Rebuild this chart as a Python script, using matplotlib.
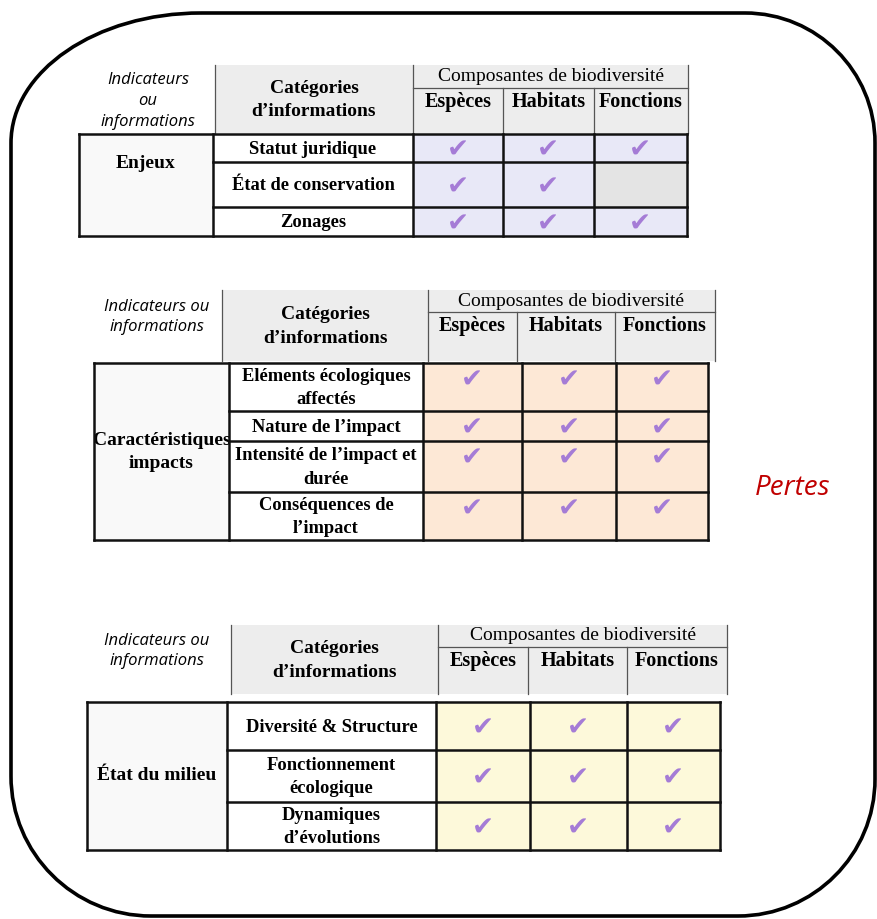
"""
Tableaux des indicateurs de biodiversité (pertes) - recréation matplotlib.
"""
import matplotlib
matplotlib.use('Agg')
from matplotlib import pyplot as plt
from matplotlib.patches import Rectangle, PathPatch
from matplotlib.path import Path

# Données
composantes = ["Espèces", "Habitats", "Fonctions"]
titre_composantes = "Composantes de biodiversité"
titre_categories = "Catégories\nd’informations"

enjeux_label = "Enjeux"
enjeux_categories = ["Statut juridique", "État de conservation", "Zonages"]
enjeux_checks = [[1, 1, 1], [1, 1, 0], [1, 1, 1]]

impacts_label = "Caractéristiques\nimpacts"
impacts_categories = ["Eléments écologiques\naffectés", "Nature de l’impact",
                      "Intensité de l’impact et\ndurée", "Conséquences de\nl’impact"]
impacts_checks = [[1, 1, 1], [1, 1, 1], [1, 1, 1], [1, 1, 1]]

milieu_label = "État du milieu"
milieu_categories = ["Diversité & Structure", "Fonctionnement\nécologique",
                     "Dynamiques\nd’évolutions"]
milieu_checks = [[1, 1, 1], [1, 1, 1], [1, 1, 1]]

SERIF = "Liberation Serif"
SANS = "Open Sans"
CHECK_COLOR = "#a57cd6"
HEADER_GREY = "#ededed"


def draw_table(ax, t):
    # en-tête gris
    hx = t['hdr_x']
    ht, hs, hb = t['hdr_y']
    ax.add_patch(Rectangle((hx[0], ht), hx[-1] - hx[0], hb - ht,
                           facecolor=HEADER_GREY, edgecolor='none', zorder=1))
    for x in hx:
        ax.plot([x, x], [ht if x in (hx[0], hx[1], hx[-1]) else hs, hb],
                color='#555555', lw=0.9, zorder=2)
    ax.plot([hx[1], hx[-1]], [hs, hs], color='#555555', lw=0.9, zorder=2)

    # textes de l'en-tête
    ax.text(t['ind_x'], t['ind_y'], t['ind_text'], ha='center', va='center',
            fontsize=12, style='italic', family=SANS, color='black',
            linespacing=1.4)
    ax.text((hx[0] + hx[1]) / 2, (ht + hb) / 2 + 1, titre_categories,
            ha='center', va='center', fontsize=14, fontweight='bold',
            family=SERIF, linespacing=1.5)
    ax.text((hx[1] + hx[-1]) / 2, (ht + hs) / 2, titre_composantes, ha='center',
            va='center', fontsize=14, family=SERIF)
    for i, nom in enumerate(composantes):
        ax.text((hx[i + 1] + hx[i + 2]) / 2, hs + 14, nom, ha='center',
                va='center', fontsize=14.5, fontweight='bold', family=SERIF)

    # corps du tableau
    bx = t['body_x']
    by = t['body_y']
    top, bot = by[0], by[-1]
    ax.add_patch(Rectangle((bx[0], top), bx[1] - bx[0], bot - top,
                           facecolor='#f9f9f9', edgecolor='none', zorder=1))
    for r in range(len(by) - 1):
        for c in range(3):
            fc = t['fill'] if t['checks'][r][c] else '#e4e4e4'
            ax.add_patch(Rectangle((bx[c + 2], by[r]), bx[c + 3] - bx[c + 2],
                                   by[r + 1] - by[r], facecolor=fc,
                                   edgecolor='none', zorder=1))
            if t['checks'][r][c]:
                if t['check_top']:
                    cy = by[r] + 18
                else:
                    cy = (by[r] + by[r + 1]) / 2 + 3
                ax.text((bx[c + 2] + bx[c + 3]) / 2, cy, '✔', ha='center',
                        va='center', fontsize=19, color=CHECK_COLOR,
                        family='DejaVu Sans', zorder=3)
        ax.text((bx[1] + bx[2]) / 2, (by[r] + by[r + 1]) / 2 + 1,
                t['categories'][r], ha='center', va='center', fontsize=13.3,
                fontweight='bold', family=SERIF, linespacing=1.5, zorder=3)

    # lignes du corps
    for x in bx:
        ax.plot([x, x], [top, bot], color='#111111', lw=1.8, zorder=4)
    for y in by:
        x0 = bx[0] if y in (top, bot) else bx[1]
        ax.plot([x0, bx[-1]], [y, y], color='#111111', lw=1.8, zorder=4)

    ax.text((bx[0] + bx[1]) / 2, t['label_y'], t['label'], ha='center',
            va='center', fontsize=14, fontweight='bold', family=SERIF,
            linespacing=1.5, zorder=3)


fig = plt.figure(figsize=(8.77, 9.19), dpi=100)
ax = fig.add_axes([0, 0, 1, 1])
ax.set_xlim(0, 877)
ax.set_ylim(919, 0)
ax.axis('off')

# cadre arrondi
L, R, T, B = 11, 875, 13, 916
k = 0.5523
verts = [
    (L + 190, T), (R - 130, T),
    (R - 130 + 130 * k, T), (R, T + 130 - 130 * k), (R, T + 130),
    (R, B - 137),
    (R, B - 137 + 137 * k), (R - 137 + 137 * k, B), (R - 137, B),
    (L + 140, B),
    (L + 140 - 140 * k, B), (L, B - 140 + 140 * k), (L, B - 140),
    (L, T + 130),
    (L, T + 130 - 130 * k), (L + 190 - 190 * k, T), (L + 190, T),
]
codes = [Path.MOVETO, Path.LINETO,
         Path.CURVE4, Path.CURVE4, Path.CURVE4,
         Path.LINETO,
         Path.CURVE4, Path.CURVE4, Path.CURVE4,
         Path.LINETO,
         Path.CURVE4, Path.CURVE4, Path.CURVE4,
         Path.LINETO,
         Path.CURVE4, Path.CURVE4, Path.CURVE4]
ax.add_patch(PathPatch(Path(verts, codes), facecolor='none',
                       edgecolor='black', lw=2.6, zorder=0))

tables = [
    dict(hdr_x=[215, 413, 503, 594, 688], hdr_y=(65, 88, 133),
         body_x=[79, 213, 413, 503, 594, 687], body_y=[134, 162, 207, 236],
         ind_text="Indicateurs\nou\ninformations", ind_x=148, ind_y=101,
         label=enjeux_label, label_y=163, categories=enjeux_categories,
         checks=enjeux_checks, fill='#e8e8f7', check_top=False),
    dict(hdr_x=[222, 428, 517, 615, 715], hdr_y=(290, 312, 361),
         body_x=[94, 229, 423, 522, 616, 708], body_y=[363, 411, 441, 492, 540],
         ind_text="Indicateurs ou\ninformations", ind_x=157, ind_y=317,
         label=impacts_label, label_y=452, categories=impacts_categories,
         checks=impacts_checks, fill='#fde8d6', check_top=True),
    dict(hdr_x=[231, 438, 528, 627, 727], hdr_y=(625, 647, 694),
         body_x=[87, 227, 436, 530, 627, 720], body_y=[702, 750, 802, 850],
         ind_text="Indicateurs ou\ninformations", ind_x=157, ind_y=651,
         label=milieu_label, label_y=776, categories=milieu_categories,
         checks=milieu_checks, fill='#fdf9da', check_top=False),
]
for t in tables:
    draw_table(ax, t)

ax.text(793, 488, "Pertes", ha='center', va='center', fontsize=20,
        style='italic', family=SANS, color='#c00000')

fig.savefig('out.png', dpi=100)
plt.close(fig)
